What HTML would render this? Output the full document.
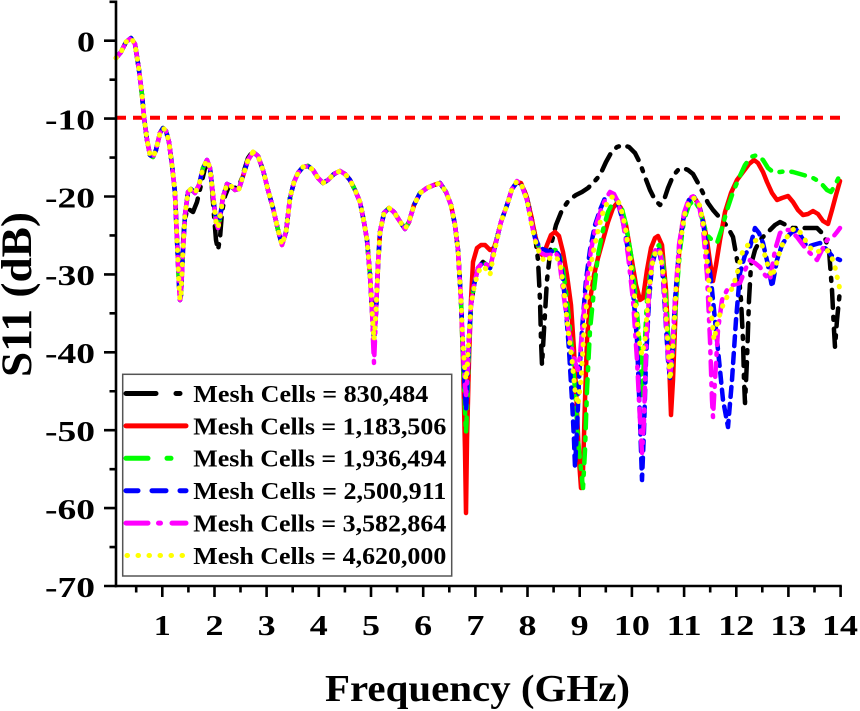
<!DOCTYPE html>
<html><head><meta charset="utf-8"><style>
html,body{margin:0;padding:0;background:#fff;}
svg{display:block;}
text{font-family:"Liberation Serif","Times New Roman",serif;font-weight:bold;fill:#000;}
</style></head><body>
<svg width="860" height="711" viewBox="0 0 860 711" xmlns="http://www.w3.org/2000/svg">
<defs>
<path id="p1" d="M116,58 L121,52 126,42 131,38 135,44 139,70 142,95 144,117 147,140 150,155 153,157 156,150 160,133 163,128 166,131 169,142 172,165 175,193"/>
<path id="p2" d="M175,193 L177,240 179,285 180,300 181,295 183,250 185,215 188,192 191,189 195,193 199,185 203,168 207,160 210,168 213,195 216,222 218,228 220,218 223,197 227,184 231,186 235,190 239,189 243,176 248,160 253,152"/>
<path id="p2k" d="M175,193 L177,240 179,280 180,296 182,260 184,228 187,208 190,210 193,212 197,202 201,185 205,168 208,164 211,175 214,215 216,240 218,250 220,238 222,212 225,196 229,186 234,188 239,187 243,174 248,158 253,151"/>
<path id="p3" d="M253,152 L258,156 263,170 268,190 273,208 278,230 282,245 286,232 290,198 294,182 298,173 303,167 308,166 313,170 318,178 323,183 328,180 334,174 340,171 345,174 350,180 355,190 360,202 364,222 367,240 370,275 372,310 374,340 376,312 378,265 380,232 384,213 389,208 394,212 399,220 405,229 409,222 414,205 420,193 427,188 434,185 440,183 446,192 451,205 455,225"/>
</defs>

<!-- threshold line -->
<line x1="116" y1="117.7" x2="840" y2="117.7" stroke="#ff0000" stroke-width="4" stroke-dasharray="10 7"/>

<g fill="none" stroke-linejoin="round">
<!-- Black -->
<g stroke="#000" stroke-width="4.5" stroke-dasharray="18 9 3 9" stroke-linecap="round">
<use href="#p1"/><use href="#p2k"/><use href="#p3"/>
<polyline points="455,225 458,250 461,300 463,350 465,385 466,400 467,385 469,340 471,305 474,285 478,268 483,262 487,265 490,268 493,255 497,238 501,222 507,205 512,189 517,182 522,184 527,198 531,215 535,235 538,260 540,300 541,340 542,365 544,330 547,280 551,245 556,225 562,210 569,200 576,195 582,192 588,188 594,182 600,175 606,162 611,153 617,147 623,145 629,147 635,153 640,163 645,177 650,190 655,200 660,205 664,200 668,188 673,176 678,170 683,168 688,170 693,174 698,183 703,193 708,203 713,210 720,218 727,226 733,237 738,265 741,300 743,340 744,380 745,403 747,360 749,300 751,265 755,250 760,240 765,235 770,230 775,225 780,222 786,225 793,228 800,228 808,228 817,228 824,235 829,250 832,290 834,330 835,347 837,320 840,290"/>
</g>
<!-- Red -->
<g stroke="#ff0000" stroke-width="4.5" stroke-linecap="round">
<use href="#p1"/><use href="#p2"/><use href="#p3"/>
<polyline points="455,225 458,250 461,300 463,360 465,450 466,513 467,440 469,360 471,300 473,262 477,248 481,245 485,245 490,250 494,248 497,238 501,222 507,205 512,189 517,182 521,183 526,195 531,215 535,235 539,250 543,256 547,245 551,235 555,232 559,236 563,252 567,275 571,305 574,350 577,410 579,460 581,488 583,470 585,400 587,340 590,300 594,275 598,258 603,240 608,222 613,208 617,203 621,208 626,225 631,255 636,285 640,300 643,298 647,270 651,248 655,238 658,236 662,245 666,290 669,360 671,415 673,380 676,300 680,240 684,215 689,200 694,197 699,205 703,220 707,240 710,262 713,281 716,265 720,240 725,212 731,193 737,180 743,172 749,164 754,160 758,163 763,172 767,182 772,193 777,200 782,198 788,196 793,202 798,210 803,215 808,214 813,211 818,214 823,221 828,224 832,210 836,195 840,181"/>
</g>
<!-- Green -->
<g stroke="#00ff00" stroke-width="4.5" stroke-dasharray="14 9 3 9" stroke-linecap="round">
<use href="#p1"/><use href="#p2"/><use href="#p3"/>
<polyline points="455,225 458,250 461,300 463,360 465,410 466,433 467,410 469,350 471,305 474,285 478,268 483,262 487,265 490,268 493,255 497,238 501,222 507,205 512,189 517,182 522,186 527,200 531,220 535,238 540,250 545,255 550,252 555,250 559,252 563,270 567,300 571,340 575,390 578,440 581,470 583,488 585,450 587,390 590,330 594,290 598,255 603,230 608,212 613,202 617,200 621,205 626,225 631,255 636,300 640,350 642,395 644,360 647,300 651,265 655,250 659,245 663,262 666,300 669,350 671,375 673,350 676,300 680,250 684,220 689,205 694,200 699,208 703,222 707,235 712,240 717,243 722,228 727,210 733,192 739,178 745,165 751,157 757,155 763,160 768,168 773,172 780,172 787,171 793,172 800,174 807,176 813,178 820,182 827,190 831,192 835,185 840,175"/>
</g>
<!-- Blue -->
<g stroke="#0000ff" stroke-width="4.5" stroke-dasharray="10 7" stroke-linecap="round">
<use href="#p1"/><use href="#p2"/><use href="#p3"/>
<polyline points="455,225 458,250 461,300 463,350 465,395 466,410 467,395 469,340 471,305 474,285 478,268 483,262 487,265 490,268 493,255 497,238 501,222 507,205 512,189 517,182 522,186 527,200 531,220 535,238 540,248 545,250 550,252 555,250 559,255 563,280 566,310 569,350 572,400 574,440 575,467 577,430 579,380 582,330 586,280 590,250 595,225 600,210 605,198 610,193 614,195 618,203 623,222 628,250 633,290 637,340 640,420 642,480 644,430 646,360 649,300 652,265 656,250 659,250 662,265 665,310 668,360 670,378 672,360 675,300 679,250 684,215 689,200 694,197 699,205 703,222 707,250 711,280 715,320 719,360 723,400 728,427 732,380 736,320 740,273 745,255 750,247 755,228 759,233 763,243 768,265 772,287 777,260 782,245 787,237 792,232 797,230 802,238 807,247 813,245 820,243 827,250 833,257 840,260"/>
</g>
<!-- Magenta -->
<g stroke="#ff00ff" stroke-width="4.5" stroke-dasharray="14 8 2 8" stroke-linecap="round">
<use href="#p1"/><use href="#p2"/><use href="#p3"/>
<polyline points="370,275 372,310 373,340 374,363 375,340 376,312 378,265"/>
<polyline points="455,225 458,250 461,300 463,350 465,385 466,395 467,385 469,340 471,305 474,285 478,268 483,262 487,265 490,268 493,255 497,238 501,222 507,205 512,189 517,181 522,186 527,200 531,220 535,240 540,252 545,255 550,255 555,252 559,258 563,290 567,320 571,345 575,362 578,370 580,355 583,320 587,280 591,250 596,225 601,210 606,198 610,192 614,194 618,202 623,222 628,255 633,300 637,360 640,420 642,453 644,420 646,350 649,295 652,262 656,248 659,248 662,262 665,305 668,355 670,377 672,355 675,300 679,245 684,213 689,198 694,196 699,205 703,228 707,275 710,340 712,400 713,417 715,380 718,330 722,300 727,290 733,285 740,283 745,270 750,260 755,263 760,267 765,275 770,280 775,250 780,233 785,230 790,230 797,237 803,245 807,250 812,255 817,260 822,250 827,240 833,237 837,232 840,228"/>
</g>
<!-- Yellow -->
<g stroke="#ffff00" stroke-width="5" stroke-dasharray="0.5 9" stroke-linecap="round">
<use href="#p1"/><use href="#p2"/><use href="#p3"/>
<polyline points="455,225 458,250 461,300 463,345 465,372 466,380 467,372 469,335 471,305 474,288 478,272 483,266 487,270 490,275 493,258 497,240 501,222 507,205 512,189 517,181 522,186 527,200 531,222 535,240 540,255 545,262 550,258 555,256 560,262 564,290 568,330 572,360 575,390 578,405 581,380 584,330 588,290 592,258 597,235 602,215 607,203 612,197 616,198 620,205 625,225 630,258 635,300 639,340 642,355 645,340 648,300 652,265 656,250 660,252 664,280 667,330 670,380 673,345 676,290 680,245 685,213 690,200 695,198 700,206 704,228 708,270 711,310 714,340 718,320 723,305 728,295 733,287 738,270 743,250 750,243 757,240 762,245 767,263 772,277 777,262 781,247 787,237 792,230 797,228 802,235 807,243 812,250 817,252 822,250 827,250 832,258 835,267 840,290"/>
</g>
</g>

<!-- Axes -->
<g stroke="#000" stroke-width="2.6" fill="none">
<line x1="116" y1="0.5" x2="116" y2="587.3"/>
<line x1="114.7" y1="586" x2="841.8" y2="586"/>
<!-- y major ticks -->
<path d="M104,40.7H116 M104,118.6H116 M104,196.5H116 M104,274.4H116 M104,352.3H116 M104,430.2H116 M104,508.1H116 M104,586H116"/>
<!-- y minor ticks -->
<path d="M109.5,1.8H116 M109.5,79.65H116 M109.5,157.55H116 M109.5,235.45H116 M109.5,313.35H116 M109.5,391.25H116 M109.5,469.15H116 M109.5,547.05H116"/>
<!-- x major ticks -->
<path d="M162.3,586V597 M214.5,586V597 M266.6,586V597 M318.8,586V597 M371,586V597 M423.2,586V597 M475.4,586V597 M527.5,586V597 M579.7,586V597 M631.9,586V597 M684.1,586V597 M736.3,586V597 M788.4,586V597 M840.6,586V597"/>
<!-- x minor ticks -->
<path d="M136.2,586V592.5 M188.4,586V592.5 M240.5,586V592.5 M292.7,586V592.5 M344.9,586V592.5 M397.1,586V592.5 M449.3,586V592.5 M501.4,586V592.5 M553.6,586V592.5 M605.8,586V592.5 M658,586V592.5 M710.2,586V592.5 M762.3,586V592.5 M814.5,586V592.5"/>
</g>

<!-- y tick labels -->
<g font-size="29" text-anchor="end">
<text x="95" y="51.5" textLength="18" lengthAdjust="spacingAndGlyphs">0</text>
<text x="95" y="129.4" textLength="50" lengthAdjust="spacingAndGlyphs">-10</text>
<text x="95" y="207.3" textLength="50" lengthAdjust="spacingAndGlyphs">-20</text>
<text x="95" y="285.2" textLength="50" lengthAdjust="spacingAndGlyphs">-30</text>
<text x="95" y="363.1" textLength="50" lengthAdjust="spacingAndGlyphs">-40</text>
<text x="95" y="441" textLength="50" lengthAdjust="spacingAndGlyphs">-50</text>
<text x="95" y="518.9" textLength="50" lengthAdjust="spacingAndGlyphs">-60</text>
<text x="95" y="596.8" textLength="50" lengthAdjust="spacingAndGlyphs">-70</text>
</g>

<!-- x tick labels -->
<g font-size="29" text-anchor="middle">
<text x="162.3" y="635" textLength="17" lengthAdjust="spacingAndGlyphs">1</text>
<text x="214.5" y="635" textLength="18" lengthAdjust="spacingAndGlyphs">2</text>
<text x="266.6" y="635" textLength="18" lengthAdjust="spacingAndGlyphs">3</text>
<text x="318.8" y="635" textLength="18" lengthAdjust="spacingAndGlyphs">4</text>
<text x="371" y="635" textLength="18" lengthAdjust="spacingAndGlyphs">5</text>
<text x="423.2" y="635" textLength="18" lengthAdjust="spacingAndGlyphs">6</text>
<text x="475.4" y="635" textLength="18" lengthAdjust="spacingAndGlyphs">7</text>
<text x="527.5" y="635" textLength="18" lengthAdjust="spacingAndGlyphs">8</text>
<text x="579.7" y="635" textLength="18" lengthAdjust="spacingAndGlyphs">9</text>
<text x="631.9" y="635" textLength="36" lengthAdjust="spacingAndGlyphs">10</text>
<text x="684.1" y="635" textLength="35" lengthAdjust="spacingAndGlyphs">11</text>
<text x="736.3" y="635" textLength="36" lengthAdjust="spacingAndGlyphs">12</text>
<text x="788.4" y="635" textLength="36" lengthAdjust="spacingAndGlyphs">13</text>
<text x="840" y="635" textLength="36" lengthAdjust="spacingAndGlyphs">14</text>
</g>

<!-- axis titles -->
<text x="477.5" y="701" font-size="38" text-anchor="middle" textLength="305" lengthAdjust="spacingAndGlyphs">Frequency (GHz)</text>
<text transform="translate(31,294.5) rotate(-90)" font-size="43" text-anchor="middle" textLength="165" lengthAdjust="spacingAndGlyphs">S11 (dB)</text>

<!-- legend -->
<rect x="122.7" y="374.3" width="329" height="201.7" fill="#fff" stroke="#555" stroke-width="1.5"/>
<g fill="none" stroke-width="5" stroke-linecap="round">
<path d="M126,393.5H156 M176,393.5H180" stroke="#000"/>
<path d="M126,425.9H186" stroke="#ff0000"/>
<path d="M126,458.3H148 M167,458.3H171" stroke="#00ff00"/>
<path d="M126,490.7H138 M152,490.7H166 M180,490.7H186" stroke="#0000ff"/>
<path d="M126,523.1H148 M158.5,523.1H160.5 M172,523.1H186" stroke="#ff00ff"/>
<path d="M127,555.5H127.5 M138,555.5H138.5 M149,555.5H149.5 M160,555.5H160.5 M171,555.5H171.5 M182,555.5H182.5" stroke="#ffff00"/>
</g>
<g font-size="24">
<text x="193.3" y="401.9" textLength="235" lengthAdjust="spacingAndGlyphs">Mesh Cells = 830,484</text>
<text x="193.3" y="434.3" textLength="253" lengthAdjust="spacingAndGlyphs">Mesh Cells = 1,183,506</text>
<text x="193.3" y="466.7" textLength="253" lengthAdjust="spacingAndGlyphs">Mesh Cells = 1,936,494</text>
<text x="193.3" y="499.1" textLength="253" lengthAdjust="spacingAndGlyphs">Mesh Cells = 2,500,911</text>
<text x="193.3" y="531.5" textLength="253" lengthAdjust="spacingAndGlyphs">Mesh Cells = 3,582,864</text>
<text x="193.3" y="563.9" textLength="253" lengthAdjust="spacingAndGlyphs">Mesh Cells = 4,620,000</text>
</g>
</svg>
</body></html>
